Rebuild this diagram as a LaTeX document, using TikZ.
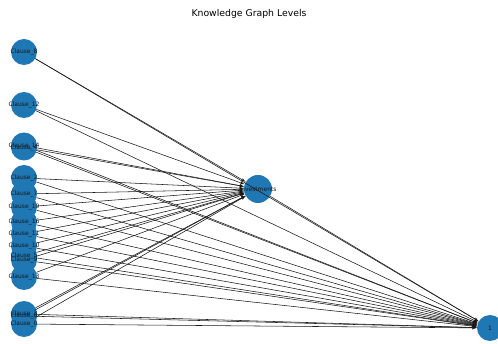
\documentclass[tikz,border=0pt]{standalone}
\usepackage{fontspec}
\setmainfont{DejaVu Sans}
\usepackage{tikz}
\usetikzlibrary{shapes.geometric, arrows}
\definecolor{nodeblue}{HTML}{1F77B4}
\tikzstyle{clause} = [circle, fill=nodeblue, minimum size=26pt, inner sep=0pt]
\tikzstyle{tag} = [font=\fontsize{6}{7}\selectfont, text=black!90, inner sep=0pt]
\tikzstyle{line} = [draw, black!90, line width=0.55pt, -latex']

\begin{document}
\begin{tikzpicture}[x=1pt, y=-1pt]
    \useasboundingbox (0,0) rectangle (498,344);
    \node at (249,14) {\fontsize{9.3}{10}\selectfont Knowledge Graph Levels};
    % Place nodes
    \node [clause] (c8) at (24,52) {};
    \node [clause] (c12) at (24,105) {};
    \node [clause] (c14) at (24,145.5) {};
    \node [clause] (c4) at (24,147.5) {};
    \node [clause] (c2) at (24,178) {};
    \node [clause] (c7) at (24,194) {};
    \node [clause] (c19) at (24,207) {};
    \node [clause] (c16) at (24,222) {};
    \node [clause] (c11) at (24,234) {};
    \node [clause] (c10) at (24,246) {};
    \node [clause] (c5) at (24,256) {};
    \node [clause] (c9) at (24,260) {};
    \node [clause] (c13) at (24,277) {};
    \node [clause] (c3) at (24,314) {};
    \node [clause] (c6) at (24,316) {};
    \node [clause] (c0) at (24,324) {};
    \node [clause, minimum size=28pt] (inv) at (258,189) {};
    \node [clause] (lvl) at (490,328) {};
    % Place labels
    \node [tag] at (c8) {Clause\_8};
    \node [tag] at (c12) {Clause\_12};
    \node [tag] at (c14) {Clause\_14};
    \node [tag] at (c4) {Clause\_4};
    \node [tag] at (c2) {Clause\_2};
    \node [tag] at (c7) {Clause\_7};
    \node [tag] at (c19) {Clause\_19};
    \node [tag] at (c16) {Clause\_16};
    \node [tag] at (c11) {Clause\_11};
    \node [tag] at (c10) {Clause\_10};
    \node [tag] at (c5) {Clause\_5};
    \node [tag] at (c9) {Clause\_9};
    \node [tag] at (c13) {Clause\_13};
    \node [tag] at (c3) {Clause\_3};
    \node [tag] at (c6) {Clause\_6};
    \node [tag] at (c0) {Clause\_0};
    \node [tag] at (inv) {Investments};
    \node [tag] at (lvl) {1};
    % Draw edges
    \path [line] (c8) -- (inv);   \path [line] (c8) -- (lvl);
    \path [line] (c12) -- (inv);  \path [line] (c12) -- (lvl);
    \path [line] (c14) -- (inv);  \path [line] (c14) -- (lvl);
    \path [line] (c4) -- (inv);   \path [line] (c4) -- (lvl);
    \path [line] (c2) -- (inv);   \path [line] (c2) -- (lvl);
    \path [line] (c7) -- (inv);   \path [line] (c7) -- (lvl);
    \path [line] (c19) -- (inv);  \path [line] (c19) -- (lvl);
    \path [line] (c16) -- (inv);  \path [line] (c16) -- (lvl);
    \path [line] (c11) -- (inv);  \path [line] (c11) -- (lvl);
    \path [line] (c10) -- (inv);  \path [line] (c10) -- (lvl);
    \path [line] (c5) -- (inv);   \path [line] (c5) -- (lvl);
    \path [line] (c9) -- (inv);   \path [line] (c9) -- (lvl);
    \path [line] (c13) -- (inv);  \path [line] (c13) -- (lvl);
    \path [line] (c3) -- (inv);   \path [line] (c3) -- (lvl);
    \path [line] (c6) -- (inv);   \path [line] (c6) -- (lvl);
    \path [line] (c0) -- (inv);   \path [line] (c0) -- (lvl);
    \path [line] (inv) -- (lvl);
\end{tikzpicture}
\end{document}
